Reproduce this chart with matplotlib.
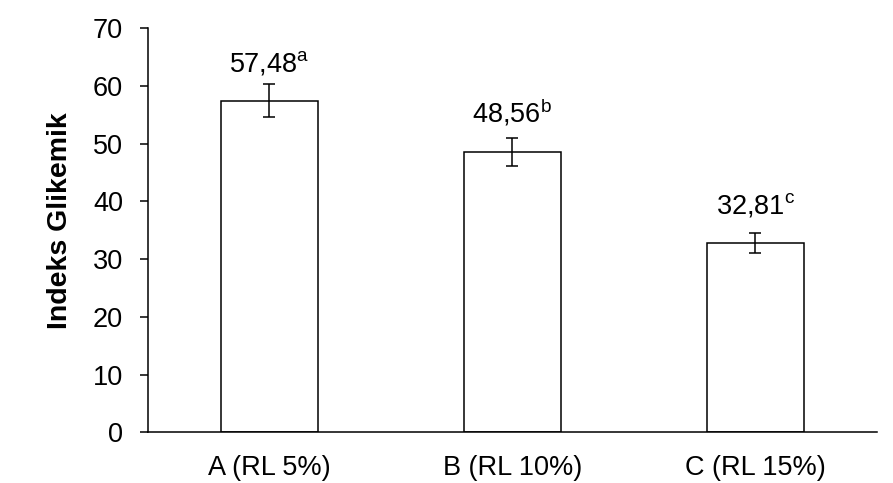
import matplotlib
matplotlib.use("Agg")
import matplotlib.pyplot as plt

categories = ["A (RL 5%)", "B (RL 10%)", "C (RL 15%)"]
values = [57.48, 48.56, 32.81]
errors = [2.9, 2.45, 1.7]
letters = ["a", "b", "c"]
value_labels = ["57,48", "48,56", "32,81"]
yticks = [0, 10, 20, 30, 40, 50, 60, 70]

plt.rcParams['font.family'] = ['Liberation Sans', 'DejaVu Sans']
plt.rcParams['mathtext.fontset'] = 'custom'
plt.rcParams['mathtext.rm'] = 'Liberation Sans'
plt.rcParams['mathtext.it'] = 'Liberation Sans'
plt.rcParams['mathtext.bf'] = 'Liberation Sans:bold'

fig = plt.figure(figsize=(8.93, 4.83), dpi=100)
ax = fig.add_axes([0.1654, 0.105, 0.8166, 0.8364])

x = list(range(len(categories)))
ax.bar(x, values, width=0.4, color='white', edgecolor='black', linewidth=1.1,
       yerr=errors, error_kw=dict(ecolor='black', elinewidth=1.1, capsize=4.3, capthick=1.1))

for xi, v, lab, let in zip(x, values, value_labels, letters):
    ax.annotate(lab + r"$^{\mathrm{" + let + "}}$", xy=(xi, v), xytext=(0, 21),
                textcoords='offset points', ha='center', va='baseline', fontsize=19.5)

ax.set_xlim(-0.5, 2.5)
ax.set_ylim(0, 70)
ax.set_yticks(yticks)
ax.set_yticklabels([str(t) for t in yticks], fontsize=19.5)
ax.set_xticks(x)
ax.set_xticklabels(categories, fontsize=19.5)
ax.tick_params(axis='x', length=0, pad=16)
ax.tick_params(axis='y', length=5.8, width=1.1, pad=12)

for s in ['top', 'right']:
    ax.spines[s].set_visible(False)
ax.spines['left'].set_linewidth(1.1)
ax.spines['bottom'].set_linewidth(1.1)

ax.set_ylabel("Indeks Glikemik", fontsize=20.5, fontweight='bold')
ax.yaxis.set_label_coords(-0.102, 0.525)

fig.savefig("out.png", dpi=100)
